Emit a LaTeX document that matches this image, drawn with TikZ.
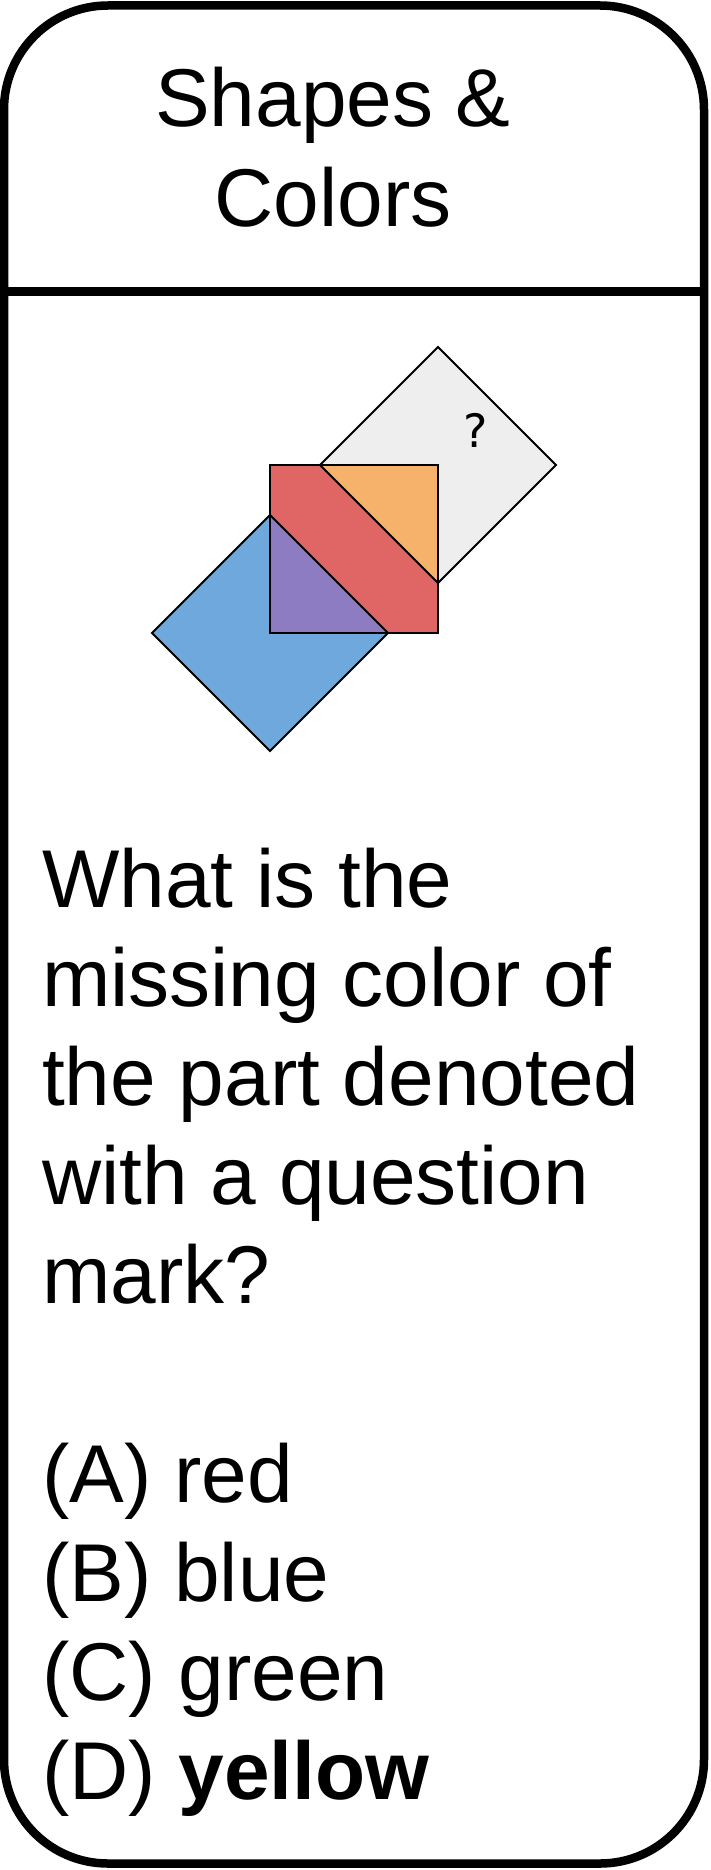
\documentclass[tikz,border=0pt]{standalone}
\usepackage{fontspec}
\setmainfont{Liberation Sans}
\newfontfamily\qmarkfont{DejaVu Sans}
\definecolor{sgray}{HTML}{EEEEEE}
\definecolor{sred}{HTML}{E06666}
\definecolor{sorange}{HTML}{F6B26B}
\definecolor{sblue}{HTML}{6FA8DC}
\definecolor{spurple}{HTML}{8E7CC3}
\tikzset{
  frame/.style={line width=8.5, draw=black},
  piece/.style={draw=black, line width=2, line join=miter},
  bigtext/.style={inner sep=0, font=\fontsize{82}{99.2}\selectfont},
  lineleft/.style={bigtext, anchor=base west},
  titleline/.style={bigtext, anchor=base},
}
\begin{document}
\begin{tikzpicture}[x=1pt,y=-1pt]
\useasboundingbox (0,0) rectangle (710,1870);
% frame
\draw[frame, rounded corners=104] (4,5.5) rectangle (704,1863.5);
\coordinate (dl) at (4,291.5);
\coordinate (dr) at (704,291.5);
\draw[frame] (dl) -- (dr);
% title
\node[titleline] (t1) at (333,126.5) {Shapes \&};
\node[titleline] (t2) at (333,227) {Colors};
% figure
\coordinate (g1) at (438,347);
\coordinate (g2) at (556,465);
\coordinate (g3) at (438,583);
\coordinate (g4) at (320,465);
\coordinate (b1) at (270,515);
\coordinate (b2) at (388,633);
\coordinate (b3) at (270,751);
\coordinate (b4) at (152,633);
\fill[sgray] (g1) -- (g2) -- (g3) -- (g4) -- cycle;
\draw[piece] (g1) -- (g2) -- (g3) -- (g4) -- cycle;
\fill[sblue] (b1) -- (b2) -- (b3) -- (b4) -- cycle;
\draw[piece] (b1) -- (b2) -- (b3) -- (b4) -- cycle;
\fill[sred] (270,465) rectangle (438,633);
\fill[sorange] (g4) -- (438,465) -- (g3) -- cycle;
\fill[spurple] (b1) -- (270,633) -- (b2) -- cycle;
\draw[piece] (g4) -- (g3);
\draw[piece] (b1) -- (b2);
\draw[piece] (270,465) rectangle (438,633);
\node[inner sep=0, font=\qmarkfont\fontsize{46}{50}\selectfont] (qm) at (475.5,430) {?};
% question
\node[lineleft] (q1) at (42,907) {What is the};
\node[lineleft] (q2) at (42,1006.2) {missing color of};
\node[lineleft] (q3) at (42,1105.4) {the part denoted};
\node[lineleft] (q4) at (42,1204.6) {with a question};
\node[lineleft] (q5) at (42,1303.8) {mark?};
\node[lineleft] (oa) at (42,1502.2) {(A) red};
\node[lineleft] (ob) at (42,1601.4) {(B) blue};
\node[lineleft] (oc) at (42,1700.6) {(C) green};
\node[lineleft] (od) at (42,1799.8) {(D) \textbf{yellow}};
\end{tikzpicture}
\end{document}
